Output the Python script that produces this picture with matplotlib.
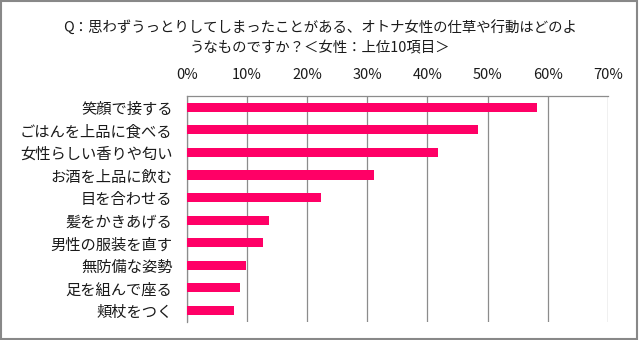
import matplotlib
matplotlib.use("Agg")
import matplotlib.pyplot as plt
from matplotlib.patches import Rectangle

plt.rcParams['font.family'] = ['Noto Sans CJK JP', 'DejaVu Sans']

categories = ["笑顔で接する", "ごはんを上品に食べる", "女性らしい香りや匂い", "お酒を上品に飲む",
              "目を合わせる", "髪をかきあげる", "男性の服装を直す", "無防備な姿勢",
              "足を組んで座る", "頬杖をつく"]
values = [58.3, 48.5, 41.7, 31.1, 22.3, 13.6, 12.6, 9.8, 8.8, 7.8]
xticks = [0, 10, 20, 30, 40, 50, 60, 70]
xticklabels = ["0%", "10%", "20%", "30%", "40%", "50%", "60%", "70%"]
title = "Q：思わずうっとりしてしまったことがある、オトナ女性の仕草や行動はどのよ\nうなものですか？＜女性：上位10項目＞"

fig = plt.figure(figsize=(6.4, 3.4), dpi=100)
ax = fig.add_axes([187/640, 1-321.7/340, (607.7-187)/640, (321.7-96)/340])

ypos = list(range(len(categories)))
ax.barh(ypos, values, height=0.4, color='#FF0066', zorder=3)
ax.set_ylim(len(categories) - 0.5, -0.5)
ax.set_xlim(0, 70)
ax.set_yticks(ypos)
ax.set_yticklabels(categories, fontsize=11, color='#1a1a1a')
ax.set_xticks(xticks)
ax.set_xticklabels(xticklabels, fontsize=10.5, color='#1a1a1a')
ax.xaxis.tick_top()
ax.tick_params(axis='x', length=0, pad=10)
ax.tick_params(axis='y', length=0, pad=10.5)
ax.grid(axis='x', color='#8C8C8C', linewidth=0.9, zorder=0)
for s in ['right', 'bottom']:
    ax.spines[s].set_visible(False)
ax.spines['left'].set_color('#8C8C8C')
ax.spines['top'].set_color('#8C8C8C')
ax.spines['left'].set_linewidth(0.9)
ax.spines['top'].set_linewidth(0.9)

fig.text(0.5, 1-38/340, title, ha='center', va='center', fontsize=10.4,
         linespacing=1.5, color='#1a1a1a')

fig.patches.append(Rectangle((0.002, 0.003), 0.994, 0.993, transform=fig.transFigure,
                             fill=False, edgecolor='#888888', linewidth=1.5))

fig.savefig("out.png", dpi=100)
